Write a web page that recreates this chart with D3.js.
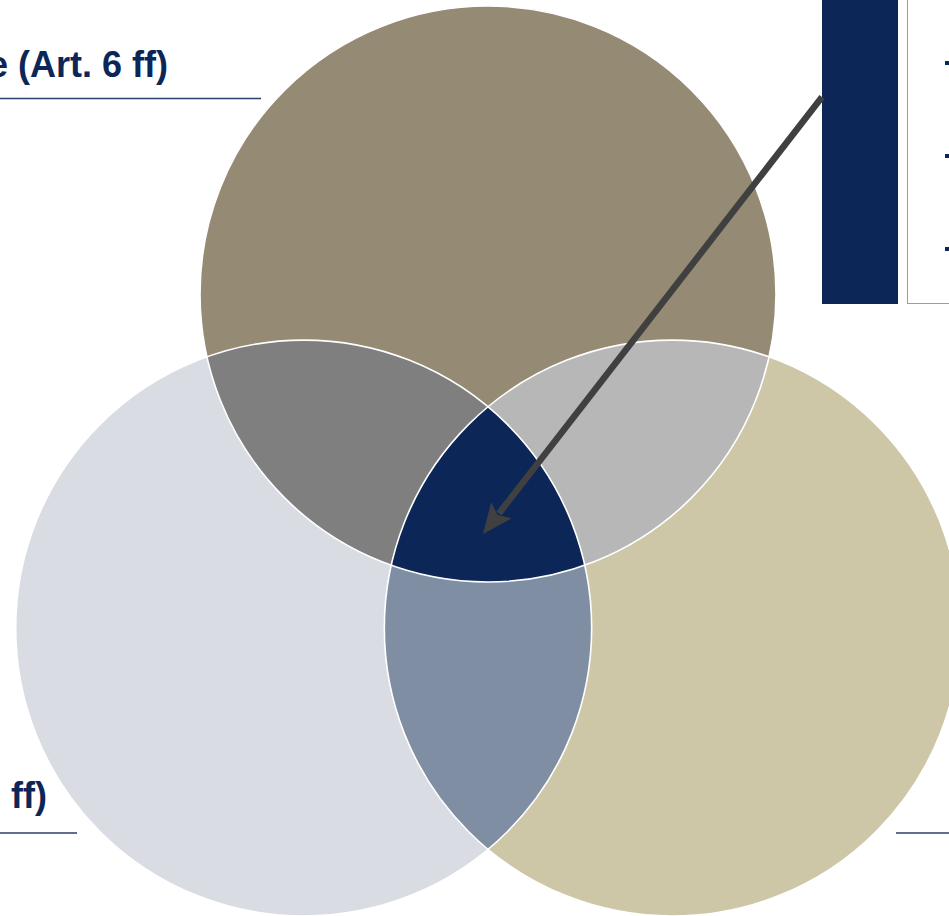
<!DOCTYPE html>
<html>
<head>
<meta charset="utf-8">
<script src="https://cdn.jsdelivr.net/npm/d3@7"></script>
<style>
  body { margin: 0; background: #fff; overflow: hidden; }
  text { font-family: "Liberation Sans", Arial, sans-serif; font-weight: bold; }
</style>
</head>
<body>
<div id="chart"></div>
<script>
const width = 949, height = 916;

// Venn sets (unit positions in circle radii)
const setNames = ["top", "left", "right"];
const setX = [0, -0.64, 0.64];
const setY = [0, 1.16, 1.16];
const setRadius = 1;

// region fills
const regionKeys = ["top", "left", "right", "top+left", "top+right", "left+right", "top+left+right"];
const regionColors = ["#958a74", "#d9dce3", "#cdc7a7", "#7f7f7f", "#b7b7b7", "#7f8ea3", "#0c2657"];

// labels (cut by the frame)
const labelTexts = ["e (Art. 6 ff)", "ff)"];
const bulletCount = 3;

// scales: one radius unit = 288px
const xScale = d3.scaleLinear().domain([-1, 1]).range([200, 776]);
const yScale = d3.scaleLinear().domain([-1, 1]).range([6, 582]);
const rPx = xScale(setRadius) - xScale(0);

const sets = setNames.map((n, i) => ({ name: n, cx: xScale(setX[i]), cy: yScale(setY[i]) }));

const svg = d3.select("#chart").append("svg")
  .attr("width", width)
  .attr("height", height);

const defs = svg.append("defs");
sets.forEach(s => {
  defs.append("clipPath").attr("id", "clip-" + s.name)
    .append("circle").attr("cx", s.cx).attr("cy", s.cy).attr("r", rPx);
});

const regions = regionKeys.map((k, i) => ({ key: k, parts: k.split("+"), color: regionColors[i] }));

// draw each region as the first circle clipped by the others (nested groups)
regions.forEach(reg => {
  let g = svg.append("g");
  reg.parts.slice(1).forEach(p => {
    g = g.append("g").attr("clip-path", `url(#clip-${p})`);
  });
  const s = sets.find(d => d.name === reg.parts[0]);
  g.append("circle")
    .attr("cx", s.cx).attr("cy", s.cy).attr("r", rPx)
    .attr("fill", reg.color);
});

// white outlines
svg.selectAll("circle.outline")
  .data(sets)
  .join("circle")
  .attr("class", "outline")
  .attr("cx", d => d.cx).attr("cy", d => d.cy).attr("r", rPx)
  .attr("fill", "none")
  .attr("stroke", "#fff")
  .attr("stroke-width", 1.6);

// label texts + underlines
svg.append("text")
  .attr("x", 168).attr("y", 77)
  .attr("text-anchor", "end")
  .attr("fill", "#0c2657")
  .attr("font-size", 36)
  .text(labelTexts[0]);
svg.append("line")
  .attr("x1", 0).attr("x2", 261).attr("y1", 98.5).attr("y2", 98.5)
  .attr("stroke", "#2b3f6b").attr("stroke-width", 1.5);

svg.append("text")
  .attr("x", 47).attr("y", 808)
  .attr("text-anchor", "end")
  .attr("fill", "#0c2657")
  .attr("font-size", 36)
  .text(labelTexts[1]);
svg.append("line")
  .attr("x1", 0).attr("x2", 77).attr("y1", 833).attr("y2", 833)
  .attr("stroke", "#2b3f6b").attr("stroke-width", 1.5);

svg.append("line")
  .attr("x1", 896).attr("x2", width).attr("y1", 833).attr("y2", 833)
  .attr("stroke", "#2b3f6b").attr("stroke-width", 1.5);

// right info panel
svg.append("rect")
  .attr("x", 907.5).attr("y", -2).attr("width", 60).attr("height", 305.5)
  .attr("fill", "#fff").attr("stroke", "#a59c88").attr("stroke-width", 1);

svg.append("rect")
  .attr("x", 822).attr("y", -1).attr("width", 76).attr("height", 305)
  .attr("fill", "#0c2657");

svg.selectAll("rect.bullet")
  .data(d3.range(bulletCount))
  .join("rect")
  .attr("class", "bullet")
  .attr("x", 945).attr("y", d => 61 + d * 93)
  .attr("width", 4).attr("height", 4)
  .attr("fill", "#0c2657");

// arrow from panel to the centre region
const start = [822, 97];
const tip = [483, 534];
const ang = Math.atan2(tip[1] - start[1], tip[0] - start[0]);
const headLen = 30, headW = 13;
const base = [tip[0] - headLen * Math.cos(ang), tip[1] - headLen * Math.sin(ang)];
svg.append("line")
  .attr("x1", start[0]).attr("y1", start[1])
  .attr("x2", base[0] + 4 * Math.cos(ang)).attr("y2", base[1] + 4 * Math.sin(ang))
  .attr("stroke", "#404040").attr("stroke-width", 6.5);
const nx = -Math.sin(ang), ny = Math.cos(ang);
svg.append("path")
  .attr("d", d3.line()([
    tip,
    [base[0] + nx * headW, base[1] + ny * headW],
    [base[0] + 6 * Math.cos(ang), base[1] + 6 * Math.sin(ang)],
    [base[0] - nx * headW, base[1] - ny * headW]
  ]) + "Z")
  .attr("fill", "#404040");
</script>
</body>
</html>
